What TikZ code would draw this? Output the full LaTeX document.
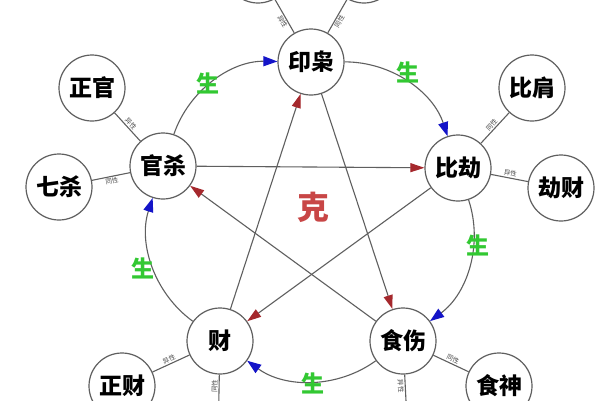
\documentclass[tikz,border=0pt]{standalone}
\usepackage{fontspec}
\newfontfamily\cjk{Noto Sans CJK SC}
\usetikzlibrary{arrows.meta}
\definecolor{ln}{RGB}{95,95,95}
\definecolor{arrblue}{RGB}{20,20,200}
\definecolor{arrred}{RGB}{165,40,45}
\definecolor{shengc}{RGB}{50,200,50}
\definecolor{kec}{RGB}{200,70,70}
\begin{document}
\begin{tikzpicture}[x=1pt,y=-1pt,
  ball/.style={circle,draw=ln,line width=1.2pt,fill=white,minimum size=66pt,inner sep=0pt,font=\cjk\bfseries\fontsize{23}{23}\selectfont},
  link/.style={draw=ln,line width=1.1pt},
  shengarr/.style={link,-{Triangle[length=14pt,width=10pt,color=arrblue]}},
  kearr/.style={link,-{Triangle[length=14pt,width=9pt,color=arrred]}},
  lbl/.style={font=\cjk\fontsize{6.5}{6.5}\selectfont,text=ln!80!black,inner sep=1pt},
  shengtxt/.style={font=\cjk\bfseries\fontsize{23}{23}\selectfont,text=shengc},
  ketxt/.style={font=\cjk\bfseries\fontsize{32}{32}\selectfont,text=kec},
]
\useasboundingbox (0,0) rectangle (600,400);
\clip (0,0) rectangle (600,400);
\fill[white] (0,0) rectangle (600,400);

% main five
\node[ball] (yin) at (311,62) {印枭};
\node[ball] (bi) at (458,168) {比劫};
\node[ball] (shi) at (403,341) {食伤};
\node[ball] (cai) at (220,341) {财};
\node[ball] (guan) at (163,166) {官杀};
% satellites
\node[ball] (zg) at (92,88) {正官};
\node[ball] (qs) at (59,187) {七杀};
\node[ball] (bj) at (532,88) {比肩};
\node[ball] (jc) at (561,188) {劫财};
\node[ball] (zc) at (122,386) {正财};
\node[ball] (sn) at (499,386) {食神};
\node[ball] (zy) at (258,-30) {};
\node[ball] (py) at (364,-30) {};
\node[ball] (pc) at (218,441) {};
\node[ball] (sg) at (408,441) {};

% satellite links
\draw[link] (guan) -- node[lbl,sloped,above] {异性} (zg);
\draw[link] (guan) -- node[lbl,sloped,below] {同性} (qs);
\draw[link] (bi) -- node[lbl,sloped,above] {同性} (bj);
\draw[link] (bi) -- node[lbl,sloped,above] {异性} (jc);
\draw[link] (cai) -- node[lbl,sloped,above] {异性} (zc);
\draw[link] (shi) -- node[lbl,sloped,above] {同性} (sn);
\draw[link] (yin) -- node[lbl,sloped,below,pos=0.4] {异性} (zy);
\draw[link] (yin) -- node[lbl,sloped,below,pos=0.4] {同性} (py);
\draw[link] (cai) -- node[lbl,sloped,above,pos=0.35] {同性} (pc);
\draw[link] (shi) -- node[lbl,sloped,below,pos=0.35] {异性} (sg);

% sheng cycle
\draw[shengarr] (guan) to[bend left=36,looseness=0.94] (yin);
\draw[shengarr] (yin) to[bend left=36,looseness=0.94] (bi);
\draw[shengarr] (bi) to[bend left=36,looseness=0.94] (shi);
\draw[shengarr] (shi) to[bend left=36,looseness=0.94] (cai);
\draw[shengarr] (cai) to[bend left=36,looseness=0.94] (guan);

% ke star
\draw[kearr] (guan) -- (bi);
\draw[kearr] (bi) -- (cai);
\draw[kearr] (cai) -- (yin);
\draw[kearr] (yin) -- (shi);
\draw[kearr] (shi) -- (guan);

% labels
\node[shengtxt] (s1) at (208,83) {生};
\node[shengtxt] (s2) at (408,72) {生};
\node[shengtxt] (s3) at (478,245) {生};
\node[shengtxt] (s4) at (313,383) {生};
\node[shengtxt] (s5) at (143,268) {生};
\node[ketxt] (k) at (313,207) {克};
\end{tikzpicture}
\end{document}
